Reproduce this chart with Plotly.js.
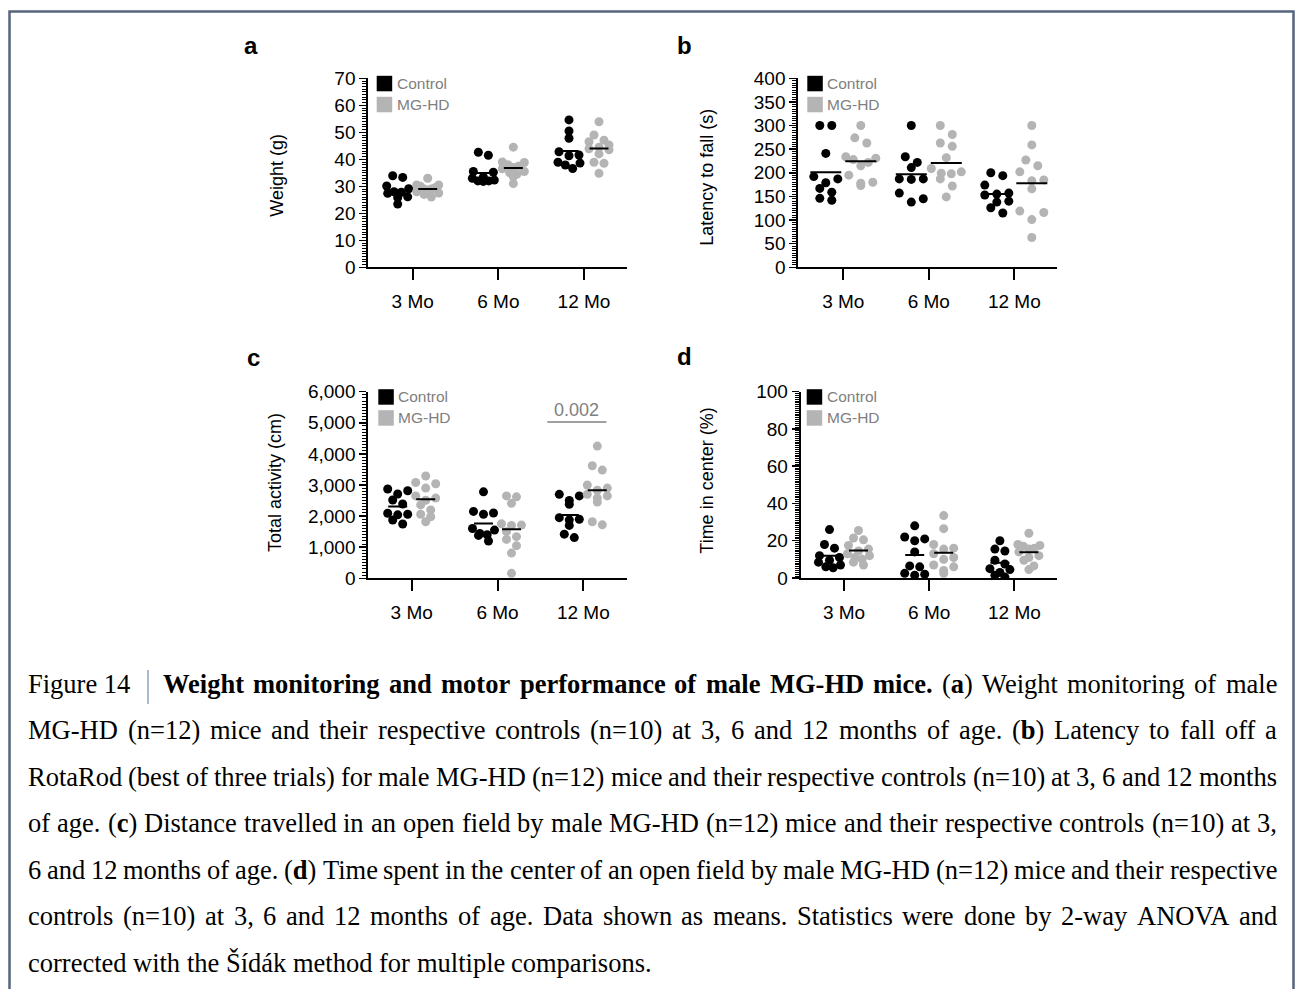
<!DOCTYPE html>
<html><head><meta charset="utf-8">
<script src="https://cdn.plot.ly/plotly-3.0.1.min.js"></script>
<style>html,body{margin:0;padding:0;background:#fff}#chart{width:1296px;height:989px}</style>
</head><body><div id="chart"></div>
<script>
// ---------------- DATA ----------------
const ages = ['3 Mo', '6 Mo', '12 Mo'];
const seriesNames = ['Control', 'MG-HD'];
const weightControl = [[33.3,33.9,29.1,30.1,27.8,27.4,28.0,25.8,26.1,23.4],[42.6,41.5,35.5,35.2,33.5,33.0,32.3,32.0,32.0,31.8],[54.6,50.5,47.8,42.8,41.6,41.3,38.9,38.6,37.9,36.6]];
const weightMGHD = [[33,30.5,30.5,30,29.5,29,29,28.5,28,27.5,27,26],[44.5,39,38.8,38,37.5,37,36.5,35.5,35,34.5,33.5,31],[53.9,49,47.1,46.5,45.3,44.5,43.9,43.5,42,38.9,38.5,34.8]];
const latencyControl = [[300,300,241,192,187,179,167,159,142,146],[300,234,222,211,187,187,186,157,138,145],[200,194,174,157,155,153,140,138,126,115]];
const latencyMGHD = [[300,274,263,234,231,228,222,215,195,180,178,173],[300,281,263,256,232,209,202,199,198,187,172,149],[300,259,227,215,202,185,183,166,119,116,101,63]];
const activityControl = [[2870,2816,2710,2517,2388,2090,2060,2040,1874,1746],[2780,2150,2100,2060,1600,1550,1440,1400,1380,1200],[2700,2650,2500,2380,1950,1900,1880,1700,1420,1310]];
const activityMGHD = [[3290,3080,3040,2900,2650,2580,2510,2360,2200,2060,1980,1820],[2650,2620,2410,1750,1710,1700,1500,1340,1250,1050,810,160],[4250,3620,3480,3000,2900,2830,2700,2650,2580,2450,1820,1720]];
const centerControl = [[26,18,16,12,11,9.5,8.5,7,6,5.5],[28,22,21,20,14,6.5,6,2.5,2,1.5],[20,15.5,14.5,9.5,7.5,5,4.5,3,1.5,0.5]];
const centerMGHD = [[25.5,21.5,20.5,17.5,15.5,14.5,13,12,11,10,8.5,7],[33.5,26.5,18,16,15.5,13,11,10,7,6,4,2.5],[24,18,17.5,17,16,15.5,14,12,11,9.5,6.5,4.5]];
const yTitles = ['Weight (g)', 'Latency to fall (s)', 'Total activity (cm)', 'Time in center (%)'];
const panelLetters = ['a', 'b', 'c', 'd'];
const pValueLabel = '0.002';
const pValueHeight = 5024;
const captionLabel = 'Figure 14';
const captionLines = [
  '<b>Weight monitoring and motor performance of male MG-HD mice.</b> (<b>a</b>) Weight monitoring of male',
  'MG-HD (n=12) mice and their respective controls (n=10) at 3, 6 and 12 months of age. (<b>b</b>) Latency to fall off a',
  'RotaRod (best of three trials) for male MG-HD (n=12) mice and their respective controls (n=10) at 3, 6 and 12 months',
  'of age. (<b>c</b>) Distance travelled in an open field by male MG-HD (n=12) mice and their respective controls (n=10) at 3,',
  '6 and 12 months of age. (<b>d</b>) Time spent in the center of an open field by male MG-HD (n=12) mice and their respective',
  'controls (n=10) at 3, 6 and 12 months of age. Data shown as means. Statistics were done by 2-way ANOVA and',
  'corrected with the Šídák method for multiple comparisons.'
];

// ---------------- LAYOUT SPECS ----------------
const W = 1296, H = 989;
const SANS = 'Liberation Sans, Arial, sans-serif';
const SERIF = 'Liberation Serif, Times New Roman, serif';
const BLACK = '#000000', GREY = '#b4b4b4', TEXTGREY = '#808080';
const specs = [
  {ctl: weightControl, mg: weightMGHD, x0: 368.3, x1: 627, y0: 78.3, y1: 267.3, t0: 412.7, sp: 85.65, yr: [0, 70], dtick: 10, minor: 1, fmt: '', off: 15, half: 9.5, tx: 276.7, ty: 175, lx: 251, ly: 45, legX: 8.4, binH: 6.5, dsp: 10, maxW: 22},
  {ctl: latencyControl, mg: latencyMGHD, x0: 798.3, x1: 1056.7, y0: 78.3, y1: 267.3, t0: 843.3, sp: 85.5, yr: [0, 400], dtick: 50, minor: 5, fmt: '', off: 17.5, half: 15.5, tx: 706.7, ty: 177, lx: 684, ly: 45, legX: 9, binH: 9, dsp: 12, maxW: 30},
  {ctl: activityControl, mg: activityMGHD, x0: 368.3, x1: 626.7, y0: 391.7, y1: 578.3, t0: 411.7, sp: 85.8, yr: [0, 6000], dtick: 1000, minor: 100, fmt: ',', off: 14, half: 9.5, tx: 275, ty: 483, lx: 253, ly: 358, legX: 10, binH: 6.5, dsp: 10, maxW: 22},
  {ctl: centerControl, mg: centerMGHD, x0: 800.7, x1: 1056.7, y0: 391.7, y1: 578, t0: 844, sp: 85.2, yr: [0, 100], dtick: 20, minor: 1, fmt: '', off: 14.5, half: 9.5, tx: 706.7, ty: 481, lx: 684, ly: 357, legX: 6, binH: 6.5, dsp: 10, maxW: 22}
];
const px = x => x / W;
const py = y => 1 - y / H;

// row-based scatter-dot spreading (pixel offsets)
function spread(vals, pxPerY, binH, dsp, maxW) {
  const idx = vals.map((v, i) => i).sort((a, b) => vals[b] - vals[a]);
  const rows = []; let cur = null;
  idx.forEach(i => {
    if (cur && (vals[cur[0]] - vals[i]) * pxPerY < binH) cur.push(i);
    else { cur = [i]; rows.push(cur); }
  });
  const out = new Array(vals.length);
  rows.forEach(row => {
    const n = row.length;
    const s = n > 1 ? Math.min(dsp, maxW / (n - 1)) : 0;
    const pos = row.map((_, j) => (j - (n - 1) / 2) * s);
    let lo = 0, hi = n - 1;
    row.forEach((i, j) => { out[i] = (j % 2 === 0) ? pos[lo++] : pos[hi--]; });
  });
  return out;
}
const mean = a => a.reduce((s, v) => s + v, 0) / a.length;

const traces = [], layout = {
  width: W, height: H, margin: {l: 0, r: 0, t: 0, b: 0},
  paper_bgcolor: '#fff', plot_bgcolor: 'rgba(0,0,0,0)', showlegend: false,
  shapes: [], annotations: []
};

specs.forEach((s, k) => {
  const n = k === 0 ? '' : String(k + 1);
  const xa = 'x' + n, ya = 'y' + n;
  const pxPerY = (s.y1 - s.y0) / (s.yr[1] - s.yr[0]);
  const mx = [], my = [];
  [[s.ctl, -s.off, BLACK], [s.mg, s.off, GREY]].forEach(([groups, off, col], gi) => {
    const xs = [], ys = [];
    groups.forEach((vals, ci) => {
      const jit = spread(vals, pxPerY, s.binH, s.dsp, s.maxW);
      vals.forEach((v, j) => { xs.push(ci + (off + jit[j]) / s.sp); ys.push(v); });
      const m = mean(vals), c = ci + off / s.sp;
      mx.push(c - s.half / s.sp, c + s.half / s.sp, null); my.push(m, m, null);
    });
    traces.push({type: 'scatter', mode: 'markers', name: seriesNames[gi], x: xs, y: ys, xaxis: xa, yaxis: ya,
      marker: {size: 9, color: col, line: {width: 0}}, hoverinfo: 'skip'});
  });
  traces.push({type: 'scatter', mode: 'lines', x: mx, y: my, xaxis: xa, yaxis: ya,
    line: {color: BLACK, width: 2}, hoverinfo: 'skip', connectgaps: false});

  layout['xaxis' + n] = {
    domain: [px(s.x0), px(s.x1)], range: [(s.x0 - s.t0) / s.sp, (s.x1 - s.t0) / s.sp], anchor: ya,
    showline: true, linecolor: BLACK, linewidth: 2, ticks: 'outside', ticklen: 11, tickwidth: 2, tickcolor: BLACK,
    tickvals: [0, 1, 2], ticktext: ages, tickfont: {family: SANS, size: 19, color: BLACK},
    showgrid: false, zeroline: false, fixedrange: true, ticklabelstandoff: 5
  };
  layout['yaxis' + n] = {
    domain: [py(s.y1), py(s.y0)], range: s.yr, anchor: xa,
    showline: true, linecolor: BLACK, linewidth: 2, ticks: 'outside', ticklen: 7, tickwidth: 1.5, tickcolor: BLACK,
    tick0: 0, dtick: s.dtick, tickformat: s.fmt, tickfont: {family: SANS, size: 19, color: BLACK},
    minor: {dtick: s.minor, tick0: 0, ticks: 'outside', ticklen: 4, tickwidth: 1, tickcolor: BLACK, showgrid: false},
    showgrid: false, zeroline: false, fixedrange: true, ticklabelstandoff: 0
  };
  layout.annotations.push({xref: 'paper', yref: 'paper', x: px(s.tx), y: py(s.ty), text: yTitles[k], textangle: -90,
    showarrow: false, xanchor: 'center', yanchor: 'middle', font: {family: SANS, size: 18, color: BLACK}});
  layout.annotations.push({xref: 'paper', yref: 'paper', x: px(s.lx), y: py(s.ly), text: '<b>' + panelLetters[k] + '</b>',
    showarrow: false, xanchor: 'center', yanchor: 'middle', font: {family: SANS, size: 24, color: BLACK}});
  const lx0 = s.x0 + s.legX, top = s.y0 - 2.5, sz = 15.5, gap = 5.5;
  [[BLACK, seriesNames[0]], [GREY, seriesNames[1]]].forEach(([col, label], i) => {
    const yt = top + i * (sz + gap);
    layout.shapes.push({type: 'rect', xref: 'paper', yref: 'paper', x0: px(lx0), x1: px(lx0 + sz), y0: py(yt + sz), y1: py(yt),
      fillcolor: col, line: {width: 0}});
    layout.annotations.push({xref: 'paper', yref: 'paper', x: px(lx0 + sz + 4.5), y: py(yt + sz / 2), text: label,
      showarrow: false, xanchor: 'left', yanchor: 'middle', borderpad: 0, borderwidth: 0,
      font: {family: SANS, size: 15.5, color: TEXTGREY}});
  });
});

// significance bracket in panel c
layout.shapes.push({type: 'line', xref: 'x3', yref: 'y3', x0: 2 - 0.42, x1: 2 + 0.27, y0: pValueHeight, y1: pValueHeight,
  line: {color: TEXTGREY, width: 1.5}});
layout.annotations.push({xref: 'x3', yref: 'y3', x: 2 - 0.075, y: pValueHeight, text: pValueLabel, showarrow: false,
  xanchor: 'center', yanchor: 'bottom', yshift: 0, font: {family: SANS, size: 18, color: TEXTGREY}});

// frame
layout.shapes.push({type: 'rect', xref: 'paper', yref: 'paper', x0: px(9.5), x1: px(1293.5), y0: -0.05, y1: py(11.5),
  line: {color: '#56657d', width: 2.5}, fillcolor: 'rgba(0,0,0,0)'});

// caption
const CAP_SIZE = 26.5, LEFT = 28, RIGHT = 1277, FIRST_START = 163, LINE0 = 683.7, LSTEP = 46.55;
const cvs = document.createElement('canvas').getContext('2d');
function measure(t, b) { cvs.font = (b ? 'bold ' : '') + CAP_SIZE + 'px "Liberation Serif"'; return cvs.measureText(t).width; }
function parseWords(line) {
  const words = []; let bold = false, cur = [], buf = '', i = 0;
  const pushSeg = () => { if (buf) { cur.push({t: buf, b: bold}); buf = ''; } };
  while (i < line.length) {
    if (line.startsWith('<b>', i)) { pushSeg(); bold = true; i += 3; continue; }
    if (line.startsWith('</b>', i)) { pushSeg(); bold = false; i += 4; continue; }
    const ch = line[i];
    if (ch === ' ') { pushSeg(); if (cur.length) { words.push(cur); cur = []; } i++; continue; }
    buf += ch; i++;
  }
  pushSeg(); if (cur.length) words.push(cur);
  return words;
}
function capAnn(x, cy, html) {
  layout.annotations.push({xref: 'paper', yref: 'paper', x: px(x), y: py(cy), text: html, showarrow: false,
    xanchor: 'left', yanchor: 'middle', borderpad: 0, borderwidth: 0, font: {family: SERIF, size: CAP_SIZE, color: BLACK}});
}
capAnn(LEFT, LINE0, captionLabel);
layout.shapes.push({type: 'line', xref: 'paper', yref: 'paper', x0: px(148), x1: px(148), y0: py(670), y1: py(704),
  line: {color: '#8fa3c0', width: 1.5}});
captionLines.forEach((line, k) => {
  const cy = LINE0 + k * LSTEP;
  const start = k === 0 ? FIRST_START : LEFT;
  const words = parseWords(line);
  const widths = words.map(w => w.reduce((s, g) => s + measure(g.t, g.b), 0));
  const total = widths.reduce((a, b) => a + b, 0);
  const justify = k < captionLines.length - 1;
  const gap = justify ? (RIGHT - start - total) / (words.length - 1) : measure(' ', false);
  let x = start;
  words.forEach((w, i) => {
    capAnn(x, cy, w.map(g => g.b ? '<b>' + g.t + '</b>' : g.t).join(''));
    x += widths[i] + gap;
  });
});

Plotly.newPlot('chart', traces, layout, {displayModeBar: false, staticPlot: true});
</script>
</body></html>
